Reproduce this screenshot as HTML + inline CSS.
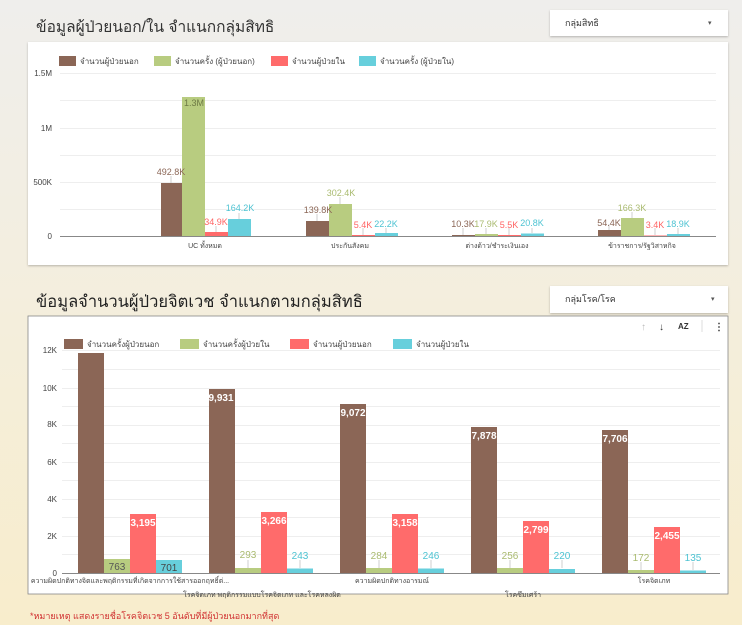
<!DOCTYPE html>
<html><head><meta charset="utf-8"><style>
body{margin:0;width:742px;height:625px;overflow:hidden;background:linear-gradient(180deg,#efeeec 0%,#f3eee0 40%,#f8edcc 100%);font-family:"Liberation Sans","Noto Sans CJK SC",sans-serif;}
svg{position:absolute;left:0;top:0}
text{font-family:"Liberation Sans","Noto Sans CJK SC",sans-serif}
</style></head><body>
<svg width="742" height="625" viewBox="0 0 742 625">
<defs><filter id="sh" x="-5%" y="-5%" width="110%" height="120%"><feDropShadow dx="0" dy="1" stdDeviation="1" flood-opacity="0.25"/></filter></defs>
<text x="36" y="32" font-size="15.5" fill="#333">ข้อมูลผู้ป่วยนอก/ใน จำแนกกลุ่มสิทธิ</text>
<rect x="550" y="10" width="178" height="26" fill="#fff" filter="url(#sh)"/>
<text x="565" y="26" font-size="9" fill="#333">กลุ่มสิทธิ</text>
<text x="708" y="25" font-size="7" fill="#555">▾</text>
<rect x="28" y="42" width="700" height="223" fill="#fff" filter="url(#sh)"/>
<g font-size="8" fill="#444">
<rect x="59" y="56" width="17" height="10" fill="#8b6656"/><text x="80" y="64">จำนวนผู้ป่วยนอก</text>
<rect x="154" y="56" width="17" height="10" fill="#b8cc80"/><text x="175" y="64">จำนวนครั้ง (ผู้ป่วยนอก)</text>
<rect x="271" y="56" width="17" height="10" fill="#ff6b6b"/><text x="292" y="64">จำนวนผู้ป่วยใน</text>
<rect x="359" y="56" width="17" height="10" fill="#67cfdc"/><text x="380" y="64">จำนวนครั้ง (ผู้ป่วยใน)</text>
</g>
<g stroke="#eee" stroke-width="1">
<line x1="60" x2="716" y1="73.5" y2="73.5"/><line x1="60" x2="716" y1="100.5" y2="100.5"/><line x1="60" x2="716" y1="128.5" y2="128.5"/><line x1="60" x2="716" y1="155.5" y2="155.5"/><line x1="60" x2="716" y1="182.5" y2="182.5"/><line x1="60" x2="716" y1="209.5" y2="209.5"/>
</g>
<line x1="60" x2="716" y1="236.5" y2="236.5" stroke="#888"/>
<g font-size="8" fill="#444" text-anchor="end">
<text x="52" y="76">1.5M</text><text x="52" y="131">1M</text><text x="52" y="185">500K</text><text x="52" y="239">0</text>
</g>
<g>
<rect x="161" y="183" width="21" height="53" fill="#8b6656"/><rect x="182" y="97" width="23" height="139" fill="#b8cc80"/><rect x="205" y="232" width="23" height="4" fill="#ff6b6b"/><rect x="228" y="219" width="23" height="17" fill="#67cfdc"/>
<rect x="306" y="221" width="23" height="15" fill="#8b6656"/><rect x="329" y="204" width="23" height="32" fill="#b8cc80"/><rect x="352" y="235" width="23" height="1" fill="#ff6b6b"/><rect x="375" y="233" width="23" height="3" fill="#67cfdc"/>
<rect x="452" y="235" width="23" height="1" fill="#8b6656"/><rect x="475" y="234" width="23" height="2" fill="#b8cc80"/><rect x="498" y="235" width="23" height="1" fill="#ff6b6b"/><rect x="521" y="233.5" width="23" height="2.5" fill="#67cfdc"/>
<rect x="598" y="230" width="23" height="6" fill="#8b6656"/><rect x="621" y="218" width="23" height="18" fill="#b8cc80"/><rect x="644" y="235.5" width="23" height="0.5" fill="#ff6b6b"/><rect x="667" y="234" width="23" height="2" fill="#67cfdc"/>
</g>
<g stroke="#bbb" stroke-width="0.7">
<line x1="171" x2="171" y1="176" y2="183"/><line x1="216" x2="216" y1="226" y2="232"/><line x1="239" x2="239" y1="213" y2="219"/>
<line x1="317" x2="317" y1="214" y2="221"/><line x1="340" x2="340" y1="197" y2="204"/><line x1="363" x2="363" y1="228" y2="235"/><line x1="386" x2="386" y1="228" y2="233"/>
<line x1="463" x2="463" y1="228" y2="235"/><line x1="486" x2="486" y1="228" y2="234"/><line x1="509" x2="509" y1="228" y2="235"/><line x1="532" x2="532" y1="228" y2="233"/>
<line x1="609" x2="609" y1="224" y2="230"/><line x1="632" x2="632" y1="212" y2="218"/><line x1="655" x2="655" y1="228" y2="235"/><line x1="678" x2="678" y1="228" y2="234"/>
</g>
<g font-size="9" text-anchor="middle">
<text x="171" y="175" fill="#8b6656">492.8K</text><text x="194" y="106" fill="#6d7a44">1.3M</text><text x="216" y="225" fill="#ff6464">34.9K</text><text x="240" y="211" fill="#4ec3d2">164.2K</text>
<text x="318" y="213" fill="#8b6656">139.8K</text><text x="341" y="196" fill="#aabb70">302.4K</text><text x="363" y="228" fill="#ff6464">5.4K</text><text x="386" y="227" fill="#4ec3d2">22.2K</text>
<text x="463" y="227" fill="#8b6656">10.3K</text><text x="486" y="227" fill="#aabb70">17.9K</text><text x="509" y="228" fill="#ff6464">5.5K</text><text x="532" y="226" fill="#4ec3d2">20.8K</text>
<text x="609" y="226" fill="#8b6656">54.4K</text><text x="632" y="211" fill="#aabb70">166.3K</text><text x="655" y="228" fill="#ff6464">3.4K</text><text x="678" y="227" fill="#4ec3d2">18.9K</text>
</g>
<g font-size="7" fill="#444" text-anchor="middle">
<text x="205" y="248">UC ทั้งหมด</text><text x="350" y="248">ประกันสังคม</text><text x="497" y="248">ต่างด้าว/ชำระเงินเอง</text><text x="642" y="248">ข้าราชการ/รัฐวิสาหกิจ</text>
</g>

<text x="36" y="307" font-size="16.5" fill="#222">ข้อมูลจำนวนผู้ป่วยจิตเวช จำแนกตามกลุ่มสิทธิ</text>
<rect x="550" y="286" width="178" height="27" fill="#fff" filter="url(#sh)"/>
<text x="565" y="302" font-size="9" fill="#333">กลุ่มโรค/โรค</text>
<text x="711" y="301" font-size="7" fill="#555">▾</text>
<rect x="28" y="316" width="700" height="278" fill="#fff" stroke="#888" stroke-width="0.8"/>
<g font-size="10" fill="#333">
<text x="641" y="330" fill="#bbb">↑</text><text x="659" y="330">↓</text><text x="678" y="329" font-size="8" font-weight="bold">AZ</text>
<line x1="702" x2="702" y1="320" y2="332" stroke="#ddd"/>
<text x="714" y="330" font-weight="bold">⋮</text>
</g>
<g font-size="8" fill="#444">
<rect x="64" y="339" width="19" height="10" fill="#8b6656"/><text x="87" y="347">จำนวนครั้งผู้ป่วยนอก</text>
<rect x="180" y="339" width="19" height="10" fill="#b8cc80"/><text x="203" y="347">จำนวนครั้งผู้ป่วยใน</text>
<rect x="290" y="339" width="19" height="10" fill="#ff6b6b"/><text x="313" y="347">จำนวนผู้ป่วยนอก</text>
<rect x="393" y="339" width="19" height="10" fill="#67cfdc"/><text x="416" y="347">จำนวนผู้ป่วยใน</text>
</g>
<g stroke="#eee">
<line x1="62" x2="720" y1="350.5" y2="350.5"/><line x1="62" x2="720" y1="369.5" y2="369.5"/><line x1="62" x2="720" y1="388.5" y2="388.5"/><line x1="62" x2="720" y1="406.5" y2="406.5"/><line x1="62" x2="720" y1="425.5" y2="425.5"/><line x1="62" x2="720" y1="443.5" y2="443.5"/><line x1="62" x2="720" y1="462.5" y2="462.5"/><line x1="62" x2="720" y1="480.5" y2="480.5"/><line x1="62" x2="720" y1="499.5" y2="499.5"/><line x1="62" x2="720" y1="517.5" y2="517.5"/><line x1="62" x2="720" y1="536.5" y2="536.5"/><line x1="62" x2="720" y1="554.5" y2="554.5"/>
</g>
<line x1="62" x2="720" y1="573.5" y2="573.5" stroke="#888"/>
<g font-size="8" fill="#444" text-anchor="end">
<text x="57" y="353">12K</text><text x="57" y="391">10K</text><text x="57" y="427">8K</text><text x="57" y="465">6K</text><text x="57" y="502">4K</text><text x="57" y="539">2K</text><text x="57" y="576">0</text>
</g>
<g>
<rect x="78" y="353" width="26" height="220" fill="#8b6656"/><rect x="104" y="559" width="26" height="14" fill="#b8cc80"/><rect x="130" y="514" width="26" height="59" fill="#ff6b6b"/><rect x="156" y="560" width="26" height="13" fill="#67cfdc"/>
<rect x="209" y="389" width="26" height="184" fill="#8b6656"/><rect x="235" y="568" width="26" height="5" fill="#b8cc80"/><rect x="261" y="512" width="26" height="61" fill="#ff6b6b"/><rect x="287" y="568.5" width="26" height="4.5" fill="#67cfdc"/>
<rect x="340" y="404" width="26" height="169" fill="#8b6656"/><rect x="366" y="568" width="26" height="5" fill="#b8cc80"/><rect x="392" y="514" width="26" height="59" fill="#ff6b6b"/><rect x="418" y="568.5" width="26" height="4.5" fill="#67cfdc"/>
<rect x="471" y="427" width="26" height="146" fill="#8b6656"/><rect x="497" y="568" width="26" height="5" fill="#b8cc80"/><rect x="523" y="521" width="26" height="52" fill="#ff6b6b"/><rect x="549" y="569" width="26" height="4" fill="#67cfdc"/>
<rect x="602" y="430" width="26" height="143" fill="#8b6656"/><rect x="628" y="570" width="26" height="3" fill="#b8cc80"/><rect x="654" y="527" width="26" height="46" fill="#ff6b6b"/><rect x="680" y="570.5" width="26" height="2.5" fill="#67cfdc"/>
</g>
<g stroke="#bbb" stroke-width="0.7">
<line x1="248" x2="248" y1="560" y2="568"/><line x1="300" x2="300" y1="560" y2="568"/>
<line x1="379" x2="379" y1="560" y2="568"/><line x1="431" x2="431" y1="560" y2="568"/>
<line x1="510" x2="510" y1="560" y2="568"/><line x1="562" x2="562" y1="560" y2="568"/>
<line x1="641" x2="641" y1="562" y2="570"/><line x1="693" x2="693" y1="562" y2="570"/>
</g>
<g font-size="10" text-anchor="middle" fill="#fff" font-weight="bold">
<text x="221" y="401">9,931</text><text x="353" y="416">9,072</text><text x="484" y="439">7,878</text><text x="615" y="442">7,706</text>
<text x="143" y="526">3,195</text><text x="274" y="524">3,266</text><text x="405" y="526">3,158</text><text x="536" y="533">2,799</text><text x="667" y="539">2,455</text>
</g>
<g font-size="10" text-anchor="middle">
<text x="117" y="570" fill="#555">763</text><text x="169" y="571" fill="#444">701</text>
<text x="248" y="558" fill="#aabb70">293</text><text x="300" y="559" fill="#4ec3d2">243</text>
<text x="379" y="559" fill="#aabb70">284</text><text x="431" y="559" fill="#4ec3d2">246</text>
<text x="510" y="559" fill="#aabb70">256</text><text x="562" y="559" fill="#4ec3d2">220</text>
<text x="641" y="561" fill="#aabb70">172</text><text x="693" y="561" fill="#4ec3d2">135</text>
</g>
<g font-size="7" fill="#444" text-anchor="middle">
<text x="130" y="583">ความผิดปกติทางจิตและพฤติกรรมที่เกิดจากการใช้สารออกฤทธิ์ต่...</text>
<text x="262" y="597">โรคจิตเภท พฤติกรรมแบบโรคจิตเภท และโรคหลงผิด</text>
<text x="392" y="583">ความผิดปกติทางอารมณ์</text>
<text x="523" y="597">โรคซึมเศร้า</text>
<text x="654" y="583">โรคจิตเภท</text>
</g>
<text x="30" y="619" font-size="9" fill="#d03030">*หมายเหตุ แสดงรายชื่อโรคจิตเวช 5 อันดับที่มีผู้ป่วยนอกมากที่สุด</text>
</svg>
</body></html>
